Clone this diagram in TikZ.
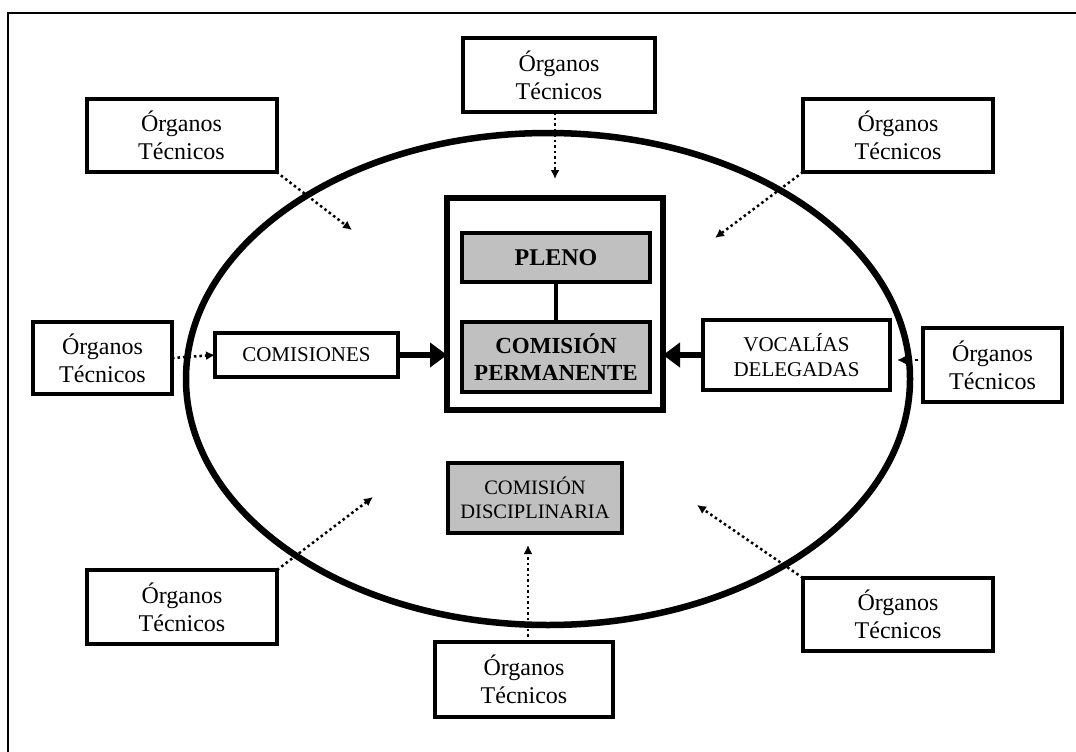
\documentclass[tikz,border=0pt]{standalone}
\usepackage{fontspec}
\setmainfont{Liberation Serif}
\usetikzlibrary{arrows.meta}
\definecolor{cajagris}{RGB}{192,192,192}
\tikzset{
  organo/.style={draw,line width=4pt,fill=white,align=center,inner sep=0pt,outer sep=0pt,
    font=\fontsize{24}{28}\selectfont},
  caja/.style={draw,line width=4pt,fill=white,align=center,inner sep=0pt,outer sep=0pt,
    font=\fontsize{21}{25}\selectfont},
  gris/.style={caja,fill=cajagris},
  punteada/.style={line width=2.5pt,dash pattern=on 2.5pt off 3pt,-{Latex[length=9pt,width=9pt]}},
  gruesa/.style={line width=5.5pt,-{Triangle[length=17pt,width=24pt]}}
}
\begin{document}
\begin{tikzpicture}[x=1pt,y=-1pt]
  \useasboundingbox (0,0) rectangle (1076,752);
  \draw[line width=2.5pt] (8,13) rectangle (1090,770);
  \draw[line width=6.5pt] (548,379) ellipse [x radius=362,y radius=246];
  % organos tecnicos
  \node[organo,minimum width=190,minimum height=73] (otl) at (181.5,135.5) {Órganos\\Técnicos};
  \node[organo,minimum width=192,minimum height=74] (ot) at (559,75) {Órganos\\Técnicos};
  \node[organo,minimum width=190,minimum height=73] (otr) at (898,135.5) {Órganos\\Técnicos};
  \node[organo,minimum width=139,minimum height=72] (ol) at (102.5,358) {Órganos\\Técnicos};
  \node[organo,minimum width=139,minimum height=74] (or) at (992.5,365) {Órganos\\Técnicos};
  \node[organo,minimum width=190,minimum height=74] (obl) at (182,607) {Órganos\\Técnicos};
  \node[organo,minimum width=178,minimum height=75] (ob) at (524,679.5) {Órganos\\Técnicos};
  \node[organo,minimum width=190,minimum height=73] (obr) at (898,614.5) {Órganos\\Técnicos};
  % centro
  \node[draw,line width=5.5pt,minimum width=216,minimum height=212,outer sep=0pt] (marco) at (555,304) {};
  \node[gris,font=\fontsize{24}{28}\selectfont,minimum width=188,minimum height=49] (pleno) at (556,257.5) {\textbf{PLENO}};
  \node[gris,font=\fontsize{23}{27}\selectfont,minimum width=188,minimum height=70] (perm) at (556,357) {\textbf{COMISIÓN}\\\textbf{PERMANENTE}};
  \node[caja,minimum width=183,minimum height=44] (comis) at (306.5,355) {COMISIONES};
  \node[caja,minimum width=187,minimum height=70] (vocal) at (796.5,355) {VOCALÍAS\\DELEGADAS};
  \node[gris,font=\fontsize{20.5}{24}\selectfont,minimum width=174,minimum height=70] (disc) at (535,498) {COMISIÓN\\DISCIPLINARIA};
  \coordinate (ptl) at (352,230);
  \coordinate (pt) at (555,179);
  \coordinate (ptr) at (715,238);
  \coordinate (pr) at (897,360);
  \coordinate (pbl) at (373,497);
  \coordinate (pb) at (528,545);
  \coordinate (pbr) at (697,505);
  \draw[line width=4.5pt] (pleno) -- (perm);
  \draw[gruesa] (comis.east) -- (marco.west |- comis.east);
  \draw[gruesa] (vocal.west) -- (marco.east |- vocal.west);
  \draw[punteada] (otl.south east) -- (ptl);
  \draw[punteada] (ot.south -| pt) -- (pt);
  \draw[punteada] (otr.south west) -- (ptr);
  \draw[punteada] (ol.east) -- (comis.west);
  \draw[punteada] (or.west |- pr) -- (pr);
  \draw[punteada] (obl.north east) -- (pbl);
  \draw[punteada] (ob.north -| pb) -- (pb);
  \draw[punteada] (obr.north west) -- (pbr);
\end{tikzpicture}
\end{document}
